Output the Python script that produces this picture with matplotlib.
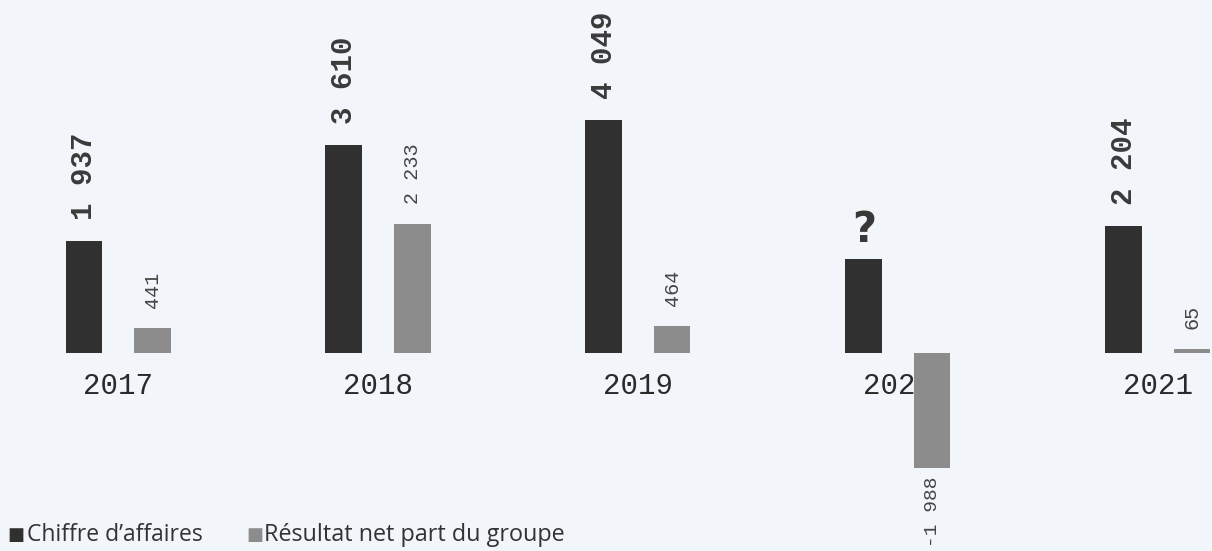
import matplotlib
matplotlib.use("Agg")
import matplotlib.pyplot as plt
import numpy as np

years = ["2017", "2018", "2019", "2020", "2021"]
chiffre_affaires = [1937, 3610, 4049, 1630, 2204]
ca_labels = ["1 937", "3 610", "4 049", "?", "2 204"]
resultat_net = [441, 2233, 464, -1988, 65]
rn_labels = ["441", "2 233", "464", "-1 988", "65"]

BG = "#f2f5fa"
DARK = "#303030"
GREY = "#8c8c8c"

fig = plt.figure(figsize=(12.12, 5.51), dpi=100, facecolor=BG)
ax = fig.add_axes([0, 0, 1, 1])
ax.set_facecolor(BG)

x = np.arange(len(years))
off = 0.131
w = 0.142
ax.bar(x - off, chiffre_affaires, width=w, color=DARK, zorder=3)
ax.bar(x + off, resultat_net, width=w, color=GREY, zorder=3)

px = 17.36  # data units per pixel
ax.set_xlim(-0.454, 4.208)
ax.set_ylim(-198 * px, 353 * px)
ax.axis("off")

for i in range(len(years)):
    v = chiffre_affaires[i]
    lab = ca_labels[i]
    if lab == "?":
        ax.text(x[i] - off, v + 8 * px, lab, rotation=0, ha="center", va="bottom",
                fontsize=30, fontweight="bold", color="#383838",
                family="DejaVu Sans", zorder=4)
    else:
        ax.text(x[i] - off, v + 21 * px, lab, rotation=90, ha="center", va="bottom",
                fontsize=21, fontweight="bold", color="#3a3a3a",
                family="Liberation Mono", zorder=4)
    r = resultat_net[i]
    if r >= 0:
        ax.text(x[i] + off, r + 20 * px, rn_labels[i], rotation=90, ha="center",
                va="bottom", fontsize=14.5, color="#444444",
                family="Liberation Mono", zorder=4)
    else:
        ax.text(x[i] + off, r - 9 * px, rn_labels[i], rotation=90, ha="center",
                va="top", fontsize=14, color="#444444",
                family="Liberation Mono", zorder=4)
    ax.text(x[i], -33 * px, years[i], ha="center", va="center",
            fontsize=21, color="#2a2a2a", family="Liberation Mono", zorder=2)

# legend
fig.text(7 / 1212, 1 - 535 / 551, "\u25A0", fontsize=13, color=DARK, va="center", ha="left")
fig.text(27 / 1212, 1 - 535 / 551, "Chiffre d\u2019affaires", fontsize=16.5, color="#333333",
         va="center", ha="left", family="Open Sans")
fig.text(246 / 1212, 1 - 535 / 551, "\u25A0", fontsize=13, color=GREY, va="center", ha="left")
fig.text(264 / 1212, 1 - 535 / 551, "R\u00e9sultat net part du groupe", fontsize=16.8,
         color="#333333", va="center", ha="left", family="Open Sans")

fig.savefig("out.png", dpi=100, facecolor=BG)
